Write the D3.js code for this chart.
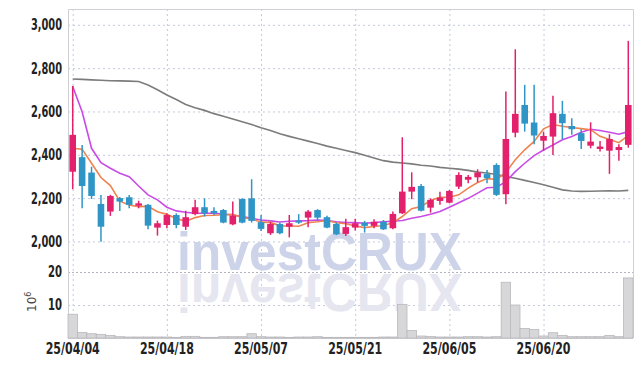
<!DOCTYPE html>
<html>
<head>
<meta charset="utf-8">
<script src="https://cdn.jsdelivr.net/npm/d3@7"></script>
<style>
  body { margin: 0; background: #fff; }
  svg { display: block; }
</style>
</head>
<body>
<div id="chart"></div>
<script>
const width = 642;
const height = 366;

// trading days
var dates = [
  "25/04/04","25/04/07","25/04/08","25/04/09","25/04/10","25/04/11","25/04/14","25/04/15","25/04/16","25/04/17",
  "25/04/18","25/04/21","25/04/22","25/04/23","25/04/24","25/04/25","25/04/28","25/04/29","25/04/30","25/05/02",
  "25/05/07","25/05/08","25/05/09","25/05/12","25/05/13","25/05/14","25/05/15","25/05/16","25/05/19","25/05/20",
  "25/05/21","25/05/22","25/05/23","25/05/26","25/05/27","25/05/28","25/05/29","25/05/30","25/06/02","25/06/04",
  "25/06/05","25/06/09","25/06/10","25/06/11","25/06/12","25/06/13","25/06/16","25/06/17","25/06/18","25/06/19",
  "25/06/20","25/06/23","25/06/24","25/06/25","25/06/26","25/06/27","25/06/30","25/07/01","25/07/02","25/07/03"
];

var openPrice = [2322,2389,2318,2173,2138,2200,2204,2165,2169,2064, 2076,2122,2068,2126,2158,2141,2145,2079,2196,2199,
            2089,2038,2081,2068,2096,2110,2145,2112,2081,2035, 2064,2087,2072,2091,2061,2130,2230,2256,2156,2187,
            2179,2253,2285,2296,2311,2353,2218,2502,2630,2549, 2465,2484,2589,2533,2500,2442,2427,2419,2422,2446];
var highPrice = [2718,2445,2345,2215,2215,2205,2215,2188,2173,2096, 2130,2130,2142,2192,2199,2158,2150,2184,2199,2287,
            2122,2091,2087,2122,2126,2145,2149,2119,2087,2105, 2105,2095,2102,2099,2138,2481,2319,2265,2199,2230,
            2238,2319,2307,2333,2330,2361,2692,2887,2723,2723, 2507,2672,2649,2569,2518,2550,2464,2495,2449,2926];
var lowPrice  = [2241,2153,2196,1999,2118,2141,2153,2153,2056,2027, 2061,2061,2053,2121,2115,2122,2084,2075,2084,2087,
            2048,2030,2033,2019,2081,2066,2097,2061,2029,2025, 2050,2041,2061,2053,2056,2127,2195,2138,2133,2169,
            2176,2242,2269,2273,2269,2210,2172,2481,2507,2449, 2418,2399,2472,2492,2427,2430,2415,2312,2373,2433];
var closePrice = [2492,2256,2210,2068,2210,2184,2169,2176,2073,2084, 2122,2076,2112,2158,2130,2130,2087,2119,2087,2095,
             2058,2081,2038,2084,2087,2138,2110,2064,2033,2066, 2084,2072,2091,2056,2127,2230,2252,2142,2192,2202,
             2233,2307,2298,2318,2292,2215,2473,2589,2544,2489, 2487,2592,2546,2518,2464,2461,2438,2473,2436,2630];

// volume, millions of shares
var volume = [7.2,1.7,1.3,1.1,0.8,0.4,0.3,0.3,0.3,0.3, 0.3,0.2,0.5,0.5,0.2,0.2,0.4,0.4,0.4,1.3,
              0.4,0.3,0.3,0.2,0.3,0.3,0.4,0.2,0.2,0.2, 0.2,0.2,0.2,0.3,0.3,10.2,2.3,0.6,0.5,0.3,
              0.3,0.3,0.4,0.4,0.3,0.4,16.9,10.0,2.9,2.6, 0.6,1.6,0.8,0.4,0.4,0.4,0.4,0.8,0.4,18.2];

// moving averages
var ma5 = [2430,2426,2361,2295,2258,2186,2168,2161,2162,2137, 2125,2106,2093,2110,2120,2121,2123,2125,2111,2104,
           2089,2088,2072,2071,2070,2086,2091,2097,2086,2082, 2071,2064,2069,2074,2086,2115,2151,2161,2189,2204,
           2204,2215,2246,2272,2290,2286,2319,2377,2423,2462, 2520,2540,2532,2526,2521,2516,2485,2471,2456,2490];
var ma20 = [2715,2599,2430,2364,2338,2315,2299,2256,2215,2192, 2158,2141,2135,2130,2130,2130,2127,2122,2115,2107,
            2099,2095,2090,2093,2095,2096,2099,2096,2091,2087, 2087,2084,2087,2091,2093,2097,2107,2115,2126,2138,
            2158,2179,2199,2223,2248,2250,2276,2322,2361,2396, 2422,2445,2469,2484,2504,2518,2512,2504,2495,2507];
var ma60 = [2750,2748,2746,2744,2742,2741,2740,2738,2722,2700, 2676,2655,2632,2617,2605,2590,2578,2565,2553,2540,
            2525,2512,2497,2485,2474,2463,2452,2440,2430,2420, 2410,2398,2385,2373,2366,2362,2358,2352,2348,2342,
            2338,2334,2328,2320,2316,2309,2300,2292,2282,2272, 2262,2250,2238,2233,2231,2232,2233,2234,2233,2236];

var priceTicks = [2000, 2200, 2400, 2600, 2800, 3000];
var volTicks = [10, 20];
var dateTicks = ["25/04/04","25/04/18","25/05/07","25/05/21","25/06/05","25/06/20"];

var mLeft = 68, mRight = 633, mTop = 9, mSplit = 272, mBottom = 338;

var svg = d3.select("#chart").append("svg")
  .attr("width", width).attr("height", height);

var x = d3.scaleBand().domain(dates).range([mLeft, mRight])
  .paddingInner(0.3).paddingOuter(0.15);
var y = d3.scaleLinear().domain([1859, 3073]).range([mSplit, mTop]);
var yv = d3.scaleLinear().domain([0, 20]).range([mBottom, mSplit]);

var cx = (d) => x(d) + x.bandwidth() / 2;
var font = "'DejaVu Sans Condensed', 'Liberation Sans Narrow', sans-serif";

// grid
var grid = svg.append("g").attr("stroke", "#c5c9dc").attr("stroke-dasharray", "2,3");
grid.selectAll(".hy").data(priceTicks).enter().append("line")
  .attr("x1", mLeft).attr("x2", mRight)
  .attr("y1", (d) => y(d) + 0.5).attr("y2", (d) => y(d) + 0.5);
grid.selectAll(".hv").data(volTicks.slice(0, 1)).enter().append("line")
  .attr("x1", mLeft).attr("x2", mRight)
  .attr("y1", (d) => yv(d) + 0.5).attr("y2", (d) => yv(d) + 0.5);
grid.selectAll(".vx").data(dateTicks).enter().append("line")
  .attr("x1", (d) => cx(d) + 0.5).attr("x2", (d) => cx(d) + 0.5)
  .attr("y1", mTop).attr("y2", mBottom);

// watermark with reflection
var wm = svg.append("g").attr("font-family", "'Liberation Sans', Arial, sans-serif")
  .attr("font-weight", "bold").attr("font-size", 54);
wm.append("text").attr("x", 177).attr("y", mSplit - 2)
  .attr("textLength", 285).attr("lengthAdjust", "spacingAndGlyphs")
  .attr("fill", "#cdd3e8").text("investCRUX");
wm.append("text").attr("x", 177).attr("y", mSplit - 2)
  .attr("transform", "translate(0," + (2 * mSplit) + ") scale(1,-1)")
  .attr("textLength", 285).attr("lengthAdjust", "spacingAndGlyphs")
  .attr("fill", "#e6e6f0").text("investCRUX");

// separator and frame
svg.append("line").attr("x1", mLeft).attr("x2", mRight).attr("y1", mSplit + 0.5).attr("y2", mSplit + 0.5)
  .attr("stroke", "#b4b4c0").attr("stroke-dasharray", "2,2");
svg.append("path")
  .attr("d", `M${mLeft + 0.5},${mBottom} V${mTop + 0.5} H${mRight + 0.5} V${mBottom}`)
  .attr("fill", "none").attr("stroke", "#cfcfd6");
svg.append("line").attr("x1", mLeft).attr("x2", mRight).attr("y1", mBottom + 0.5).attr("y2", mBottom + 0.5)
  .attr("stroke", "#cfcfd6");

// volume bars
svg.append("g").selectAll("rect").data(dates).enter().append("rect")
  .attr("x", (d) => x(d) - x.step() * 0.15)
  .attr("width", x.step())
  .attr("y", (d, i) => yv(volume[i]))
  .attr("height", (d, i) => mBottom - yv(volume[i]))
  .attr("fill", "#d7d7d9").attr("stroke", "#b9b9bd").attr("stroke-width", 0.8);

// moving averages
var line = (arr) => d3.line().x((d) => cx(d)).y((d, i) => y(arr[i]))(dates);
svg.append("path").attr("d", line(ma60)).attr("fill", "none").attr("stroke", "#7c7c7c").attr("stroke-width", 1.6);
svg.append("path").attr("d", line(ma20)).attr("fill", "none").attr("stroke", "#c94be6").attr("stroke-width", 1.6);
svg.append("path").attr("d", line(ma5)).attr("fill", "none").attr("stroke", "#ee8350").attr("stroke-width", 1.6);

// candles
var up = "#e3206b", down = "#2e95c6";
var col = (i) => closePrice[i] >= openPrice[i] ? up : down;
var candles = svg.append("g").selectAll("g").data(dates).enter().append("g");
candles.append("line")
  .attr("x1", (d) => cx(d)).attr("x2", (d) => cx(d))
  .attr("y1", (d, i) => y(highPrice[i])).attr("y2", (d, i) => y(lowPrice[i]))
  .attr("stroke", (d, i) => col(i)).attr("stroke-width", 1.5);
candles.append("rect")
  .attr("x", (d) => x(d)).attr("width", x.bandwidth())
  .attr("y", (d, i) => y(Math.max(openPrice[i], closePrice[i])))
  .attr("height", (d, i) => Math.max(2, Math.abs(y(openPrice[i]) - y(closePrice[i]))))
  .attr("fill", (d, i) => col(i));

// axes labels (condensed to match the narrow face)
var lab = svg.append("g").attr("font-family", font).attr("font-weight", "bold")
  .attr("font-size", 15).attr("fill", "#222");
lab.selectAll(".py").data(priceTicks).enter().append("text")
  .attr("x", 31).attr("y", (d) => y(d)).attr("dy", "0.36em")
  .attr("textLength", 31).attr("lengthAdjust", "spacingAndGlyphs")
  .text((d) => d3.format(",")(d));
lab.selectAll(".vy").data(volTicks).enter().append("text")
  .attr("x", 48).attr("y", (d) => yv(d)).attr("dy", "0.36em")
  .attr("textLength", 14).attr("lengthAdjust", "spacingAndGlyphs")
  .text((d) => d);
lab.selectAll(".dx").data(dateTicks).enter().append("text")
  .attr("x", (d) => cx(d) - 27).attr("y", 354)
  .attr("textLength", 54).attr("lengthAdjust", "spacingAndGlyphs")
  .attr("font-size", 16)
  .text((d) => d);

var unit = svg.append("text").attr("transform", "translate(36,312) rotate(-90)")
  .attr("font-family", "'DejaVu Sans', sans-serif").attr("font-size", 12).attr("fill", "#444");
unit.append("tspan").text("10");
unit.append("tspan").attr("dy", -5).attr("font-size", 8).text("6");
</script>
</body>
</html>
